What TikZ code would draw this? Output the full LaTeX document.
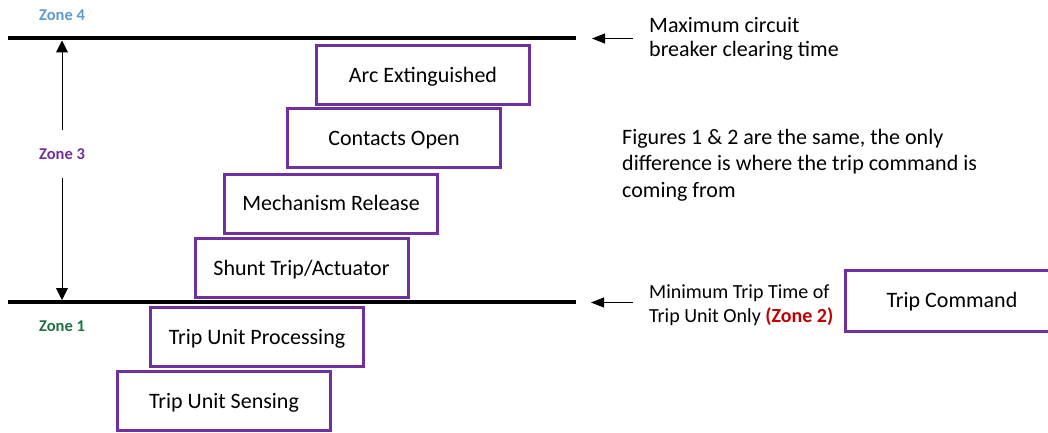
\documentclass[tikz,border=0pt]{standalone}
\usepackage{fontspec}
\setmainfont{Carlito}
\usetikzlibrary{arrows.meta}
\definecolor{stepviolet}{HTML}{7030A0}
\definecolor{zoneblue}{HTML}{5B9BD5}
\definecolor{zonegreen}{HTML}{1E7145}
\definecolor{zonered}{HTML}{C00000}
\tikzset{
  stagebox/.style={draw=stepviolet, line width=3pt, minimum width=213pt,
    minimum height=59pt, inner sep=0pt, text height=14.2pt, text depth=0pt,
    font=\fontsize{22}{26}\selectfont},
  limitline/.style={line width=4pt},
  dimarrow/.style={line width=1pt, -{Triangle[length=12pt,width=12pt]}},
  pointer/.style={line width=1pt, -{Triangle[length=13pt,width=10pt]}},
  note/.style={anchor=base west, align=left, inner sep=0pt},
  zonelabel/.style={inner sep=0pt, font=\bfseries\fontsize{16.5}{20}\selectfont}
}
\begin{document}
\begin{tikzpicture}[x=1pt,y=-1pt]
\useasboundingbox (0,0) rectangle (1048,433);

% time limits
\coordinate (maxL) at (8,38.5);
\coordinate (maxR) at (576,38.5);
\coordinate (minL) at (8,302);
\coordinate (minR) at (576,302);
\draw[limitline] (maxL) -- (maxR);
\draw[limitline] (minL) -- (minR);

% zone labels
\node[zonelabel, text=zoneblue] (zfour) at (62,15.5) {Zone 4};
\node[zonelabel, text=stepviolet] (zthree) at (62,154) {Zone 3};
\node[zonelabel, text=zonegreen] (zone) at (62,326.5) {Zone 1};

% zone 3 span
\coordinate (spantop) at (62,40.5);
\coordinate (spanbot) at (62,300);
\coordinate (z3up) at (62,130);
\coordinate (z3dn) at (62,178);
\draw[dimarrow] (z3up) -- (spantop);
\draw[dimarrow] (z3dn) -- (spanbot);

% sequence of events
\node[stagebox] (arc) at (423,75.5) {Arc Extinguished};
\node[stagebox] (contacts) at (394,138) {Contacts Open};
\node[stagebox] (mech) at (331,203.5) {Mechanism Release};
\node[stagebox] (shunt) at (301.5,268) {Shunt Trip/Actuator};
\node[stagebox] (proc) at (257,337) {Trip Unit Processing};
\node[stagebox] (sense) at (224,401) {Trip Unit Sensing};
\node[stagebox, minimum height=61pt] (cmd) at (952,300.5) {Trip Command};

% annotations (base anchor sits on the last line)
\coordinate (maxtail) at (633,38.5);
\coordinate (maxtip) at (592,38.5);
\draw[pointer] (maxtail) -- (maxtip);
\node[note, font=\fontsize{22}{24}\selectfont] (maxnote) at (649,57)
  {Maximum circuit\\breaker clearing time};

\node[note, font=\fontsize{22}{26.5}\selectfont] (figsnote) at (622,197)
  {Figures 1 \& 2 are the same, the only\\difference is where the trip command is\\coming from};

\coordinate (mintail) at (633,302.5);
\coordinate (mintip) at (591,302.5);
\draw[pointer] (mintail) -- (mintip);
\node[note, font=\fontsize{20}{24}\selectfont] (minnote) at (649,322)
  {Minimum Trip Time of\\Trip Unit Only {\bfseries\color{zonered}(Zone 2)}};
\end{tikzpicture}
\end{document}
